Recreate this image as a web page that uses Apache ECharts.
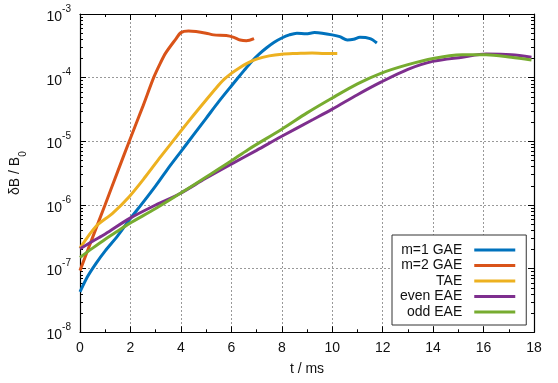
<!DOCTYPE html>
<html>
<head>
<meta charset="utf-8">
<script src="https://cdn.jsdelivr.net/npm/echarts@6/dist/echarts.min.js"></script>
<style>
  html, body { margin: 0; padding: 0; background: #fff; }
  #chart { width: 558px; height: 383px; }
</style>
</head>
<body>
<div id="chart"></div>
<script>
// t in ms, dB/B0
const tM1 = [0, 0.3, 0.63, 1.0, 1.5, 1.95, 2.5, 3.0, 3.46, 4.0, 4.5, 5.0, 5.5, 6.0, 6.5, 6.8, 7.1, 7.4, 7.7, 8.0, 8.3, 8.6, 8.96, 9.3, 9.6, 10.0, 10.3, 10.6, 10.85, 11.1, 11.5, 11.77]
const vM1 = [4.3e-8, 7.5e-8, 1.2e-7, 1.9e-7, 3.3e-7, 5.8e-7, 1.1e-6, 2.0e-6, 3.6e-6, 6.9e-6, 1.26e-5, 2.3e-5, 4.2e-5, 7.4e-5, 1.29e-4, 1.78e-4, 2.34e-4, 2.95e-4, 3.6e-4, 4.2e-4, 4.7e-4, 5.0e-4, 4.9e-4, 5.1e-4, 5.0e-4, 4.7e-4, 4.4e-4, 3.9e-4, 4.0e-4, 4.3e-4, 4.1e-4, 3.5e-4]

const tM2 = [0, 0.5, 1.0, 1.5, 2.0, 2.5, 2.92, 3.2, 3.4, 3.79, 4.0, 4.3, 4.6, 5.0, 5.3, 5.8, 6.1, 6.35, 6.6, 6.9]
const vM2 = [9.3e-8, 3.1e-7, 1.02e-6, 3.4e-6, 1.12e-5, 3.6e-5, 1.0e-4, 1.74e-4, 2.45e-4, 4.0e-4, 5.1e-4, 5.4e-4, 5.3e-4, 5.0e-4, 4.7e-4, 4.6e-4, 4.3e-4, 3.9e-4, 3.8e-4, 4.1e-4]

const tTAE = [0, 0.63, 1.29, 1.95, 2.6, 3.2, 4.0, 4.5, 5.0, 5.4, 5.7, 6.0, 6.3, 6.6, 7.0, 7.5, 8.0, 8.6, 9.2, 9.7, 10.2]
const vTAE = [2.1e-7, 4.6e-7, 7.4e-7, 1.35e-6, 2.8e-6, 5.75e-6, 1.45e-5, 2.57e-5, 4.47e-5, 6.9e-5, 9.3e-5, 1.17e-4, 1.41e-4, 1.66e-4, 1.95e-4, 2.2e-4, 2.34e-4, 2.4e-4, 2.45e-4, 2.4e-4, 2.4e-4]

const tEven = [0, 0.5, 1.0, 1.95, 3.0, 3.95, 4.97, 5.96, 7.0, 8.0, 9.24, 10.0, 11.0, 11.93, 13.0, 13.98, 15.16, 16.1, 17.1, 17.9]
const vEven = [2.05e-7, 2.7e-7, 3.5e-7, 6.1e-7, 1.0e-6, 1.5e-6, 2.6e-6, 4.3e-6, 7.2e-6, 1.2e-5, 2.2e-5, 3.2e-5, 5.4e-5, 8.5e-5, 1.35e-4, 1.8e-4, 2.1e-4, 2.35e-4, 2.3e-4, 2.1e-4]

const tOdd = [0, 0.5, 1.0, 1.5, 1.95, 3.0, 3.95, 4.97, 5.96, 6.66, 8.0, 9.0, 10.0, 11.0, 11.93, 13.0, 14.0, 15.16, 16.1, 17.1, 17.9]
const vOdd = [1.5e-7, 2.1e-7, 2.9e-7, 3.9e-7, 5.1e-7, 8.8e-7, 1.5e-6, 2.7e-6, 4.8e-6, 7.4e-6, 1.55e-5, 2.8e-5, 4.8e-5, 8.0e-5, 1.17e-4, 1.6e-4, 2.0e-4, 2.28e-4, 2.3e-4, 2.1e-4, 1.9e-4]

const names = ['m=1 GAE', 'm=2 GAE', 'TAE', 'even EAE', 'odd EAE']
const colors = ['#0072bd', '#d95319', '#edb120', '#7e2f8e', '#77ac30']
const tList = [tM1, tM2, tTAE, tEven, tOdd]
const vList = [vM1, vM2, vTAE, vEven, vOdd]

const font = 'Liberation Sans, Arial, sans-serif'
const chart = echarts.init(document.getElementById('chart'))

const tick = { show: true, inside: true, length: 6, lineStyle: { color: '#000' } }
const minor = { show: true, length: 3, lineStyle: { color: '#000' } }
const grid = { show: true, lineStyle: { color: '#999', type: [2, 2], width: 1 } }
const axLine = { show: true, onZero: false, lineStyle: { color: '#000', width: 1.2 } }

chart.setOption({
  animation: false,
  textStyle: { fontFamily: font },
  grid: { left: 77.6, right: 24, top: 14, bottom: 50.7 },
  legend: {
    data: names,
    orient: 'vertical',
    left: 392, top: 235,
    padding: [8, 11, 6, 8],
    itemWidth: 41, itemHeight: 3, itemGap: 1.5,
    icon: 'rect',
    align: 'right',
    borderColor: '#333', borderWidth: 1, borderRadius: 0,
    backgroundColor: '#fff',
    textStyle: { fontSize: 14, color: '#111', width: 62, align: 'right', padding: [0, 7, 0, 0], fontFamily: font }
  },
  xAxis: [{
    type: 'value', min: 0, max: 18, interval: 2,
    name: 't / ms', nameLocation: 'middle', nameGap: 30,
    nameTextStyle: { fontSize: 14, color: '#111' },
    axisLine: axLine, axisTick: tick,
    minorTick: Object.assign({ splitNumber: 2 }, minor),
    splitLine: grid,
    axisLabel: { fontSize: 14, color: '#111', margin: 9 }
  }, {
    type: 'value', min: 0, max: 18, interval: 2, position: 'top',
    axisLine: axLine, axisTick: tick,
    minorTick: Object.assign({ splitNumber: 2 }, minor),
    splitLine: { show: false }, axisLabel: { show: false }
  }],
  yAxis: [{
    type: 'log', min: 1e-8, max: 1e-3, logBase: 10,
    name: '{a|δB / B}{s|0}', nameLocation: 'middle', nameGap: 52, nameRotate: 90,
    nameTextStyle: {
      rich: {
        a: { fontSize: 14, color: '#111', lineHeight: 20, verticalAlign: 'top' },
        s: { fontSize: 10, color: '#111', lineHeight: 20, verticalAlign: 'bottom' }
      }
    },
    axisLine: axLine, axisTick: tick,
    minorTick: Object.assign({ splitNumber: 9 }, minor),
    splitLine: grid,
    axisLabel: {
      margin: 9,
      formatter: v => '{b|10}{s|' + Math.round(Math.log10(v)) + '}',
      rich: {
        b: { fontSize: 14, color: '#111', lineHeight: 20, verticalAlign: 'bottom' },
        s: { fontSize: 10, color: '#111', lineHeight: 20, verticalAlign: 'top' }
      }
    }
  }, {
    type: 'log', min: 1e-8, max: 1e-3, logBase: 10, position: 'right',
    axisLine: axLine, axisTick: tick,
    minorTick: Object.assign({ splitNumber: 9 }, minor),
    splitLine: { show: false }, axisLabel: { show: false }
  }],
  series: names.map((n, i) => ({
    name: n,
    type: 'line',
    color: colors[i],
    showSymbol: false,
    smooth: 0.3,
    lineStyle: { width: 3, color: colors[i] },
    data: tList[i].map((t, j) => [t, vList[i][j]])
  }))
})
</script>
</body>
</html>
